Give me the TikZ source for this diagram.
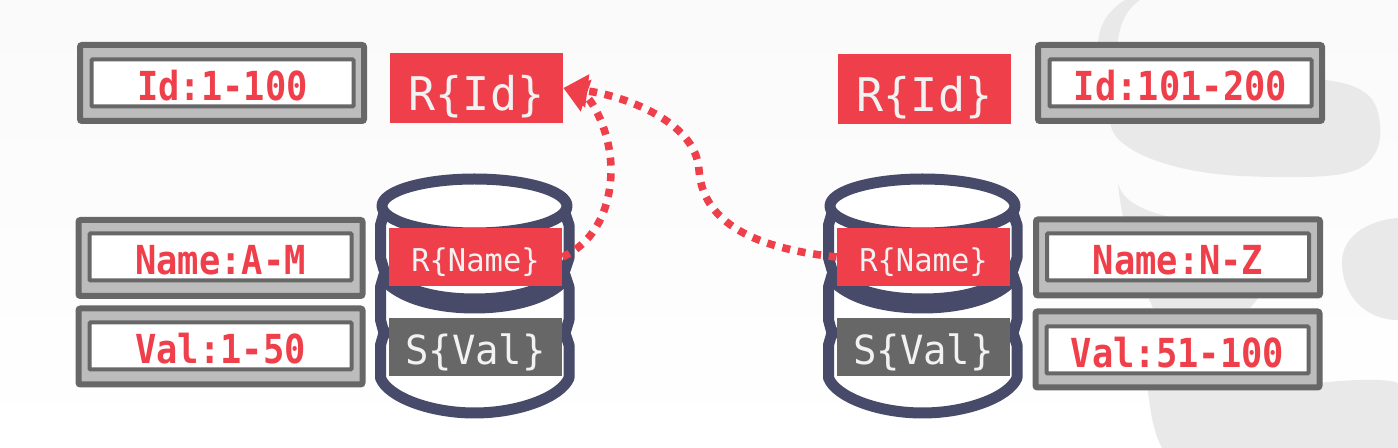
\documentclass[tikz,border=0pt]{standalone}
\usepackage{fontspec}
\newfontfamily\rangefont[FakeStretch=0.885]{DejaVu Sans Mono}
\newfontfamily\attrfont[FakeStretch=0.97]{DejaVu Sans Mono}
\usepackage{tikz}
\usetikzlibrary{arrows.meta}

\definecolor{slidered}{HTML}{EE3F4A}
\definecolor{slidegray}{HTML}{676767}
\definecolor{dbnavy}{HTML}{484A6A}
\definecolor{rangefill}{HTML}{BCBCBC}
\definecolor{blobgray}{HTML}{E9E9E9}

\begin{document}
\begin{tikzpicture}[x=0.5pt,y=-0.5pt,
    range outer/.style={draw=slidegray,fill=rangefill,line width=3pt,rounded corners=1pt,
                        minimum width=142pt,minimum height=38pt,inner sep=0pt},
    range inner/.style={draw=slidegray,fill=white,line width=2pt,rounded corners=0.5pt,
                        minimum width=131pt,minimum height=23.5pt,inner sep=0pt,text=slidered,
                        text height=18pt,text depth=0pt,
                        font=\rangefont\bfseries\fontsize{20}{20}\selectfont},
    attr box/.style={minimum width=86.5pt,inner sep=0pt,text=white!95!black,text depth=0pt},
    big attr/.style={attr box,fill=slidered,minimum height=35pt,text height=23pt,
                     font=\attrfont\fontsize{23.2}{23.2}\selectfont},
    name attr/.style={attr box,fill=slidered,minimum height=29pt,text height=15pt,
                      font=\attrfont\fontsize{15.7}{15.7}\selectfont},
    val attr/.style={attr box,fill=slidegray,minimum height=29pt,text height=18pt,
                     font=\attrfont\fontsize{20.1}{20.1}\selectfont},
    db line/.style={draw=dbnavy,line width=5.5pt,fill=white,line cap=round,line join=round},
    ref arrow/.style={draw=slidered,line width=3.8pt,dash pattern=on 4pt off 3.85pt,
                      -{Triangle[length=12pt,width=16pt]}}]

  % slide background
  \useasboundingbox (0,0) rectangle (1398,448);
  \fill[top color=black!2,bottom color=white] (0,0) rectangle (1398,448);
  \fill[blobgray] (1125,0) .. controls (1105,12) and (1097,30) .. (1098,50)
    .. controls (1100,80) and (1105,110) .. (1112,130)
    .. controls (1122,152) and (1170,172) .. (1240,176)
    .. controls (1290,178) and (1330,178) .. (1350,172)
    .. controls (1375,165) and (1382,145) .. (1380,125)
    .. controls (1378,100) and (1368,85) .. (1325,80)
    -- (1117,70) .. controls (1115,35) and (1122,12) .. (1140,0) -- cycle;
  \fill[blobgray] (1118,183) .. controls (1122,200) and (1140,210) .. (1170,217)
    -- (1280,260) .. controls (1265,285) and (1262,295) .. (1250,308) -- (1153,308)
    .. controls (1140,280) and (1122,230) .. (1118,183) -- cycle;
  \fill[blobgray] (1146,380) .. controls (1150,400) and (1150,425) .. (1162,448) -- (1398,448)
    -- (1398,383) .. controls (1385,378) and (1350,379) .. (1300,385) -- cycle;
  \fill[blobgray] (1398,218) .. controls (1370,220) and (1342,235) .. (1342,262)
    .. controls (1342,295) and (1365,320) .. (1398,320) -- cycle;

  % database stacks
  \foreach \dbx in {0,448} {
    \begin{scope}[shift={(\dbx,0)}]
      \path[db line] (384,333) -- (380.5,345) -- (380.5,378)
        .. controls (388,397) and (430,413) .. (474.5,413)
        .. controls (519,413) and (561,397) .. (569,378) -- (569,345) -- (565,333);
      \path[db line] (384,275) -- (380.5,287) -- (380.5,320) -- (384,333) -- (565,333)
        -- (569,320) -- (569,287) -- (565,275) -- cycle;
      \draw[dbnavy,line width=5.5pt,line cap=round] (384,280)
        .. controls (400,298) and (435,308) .. (474.5,308)
        .. controls (514,308) and (549,298) .. (565,280);
      \path[db line] (384,213) -- (380.5,225) -- (380.5,258) -- (384,270)
        .. controls (400,290) and (435,299) .. (474.5,299)
        .. controls (514,299) and (549,290) .. (565,270) -- (569,258) -- (569,225) -- (565,213);
      \path[db line] (474.5,206) ellipse [x radius=92.5,y radius=27];
    \end{scope}
  }

  % left site
  \node[range outer] (idoutl) at (222,83) {};
  \node[range inner] (idinl) at (222.5,83) {Id:1-100};
  \node[range outer] (nameoutl) at (220.5,258) {};
  \node[range inner] (nameinl) at (220.5,257) {Name:A-M};
  \node[range outer] (valoutl) at (220.5,346.5) {};
  \node[range inner] (valinl) at (220.5,346) {Val:1-50};
  \node[big attr] (ridl) at (476.5,88) {R\{Id\}};
  \node[name attr] (rnamel) at (475.5,257) {R\{Name\}};
  \node[val attr] (svall) at (475.5,347) {S\{Val\}};

  % right site
  \node[range outer] (idoutr) at (1180,83) {};
  \node[range inner] (idinr) at (1180.5,83) {Id:101-200};
  \node[range outer] (nameoutr) at (1178,257.5) {};
  \node[range inner] (nameinr) at (1178,257) {Name:N-Z};
  \node[range outer] (valoutr) at (1177.5,349.5) {};
  \node[range inner] (valinr) at (1177.5,350) {Val:51-100};
  \node[big attr] (ridr) at (924.5,89) {R\{Id\}};
  \node[name attr] (rnamer) at (923.5,257) {R\{Name\}};
  \node[val attr] (svalr) at (923.5,347) {S\{Val\}};

  % lookups
  \draw[ref arrow] (rnamel.east) .. controls (600,240) and (611,200) .. (611,170)
    .. controls (611,130) and (590,97) .. (ridl.east);
  \draw[ref arrow] (rnamer.west) .. controls (770,250) and (703,230) .. (699,170)
    .. controls (696,120) and (620,95) .. (ridl.east);
\end{tikzpicture}
\end{document}
